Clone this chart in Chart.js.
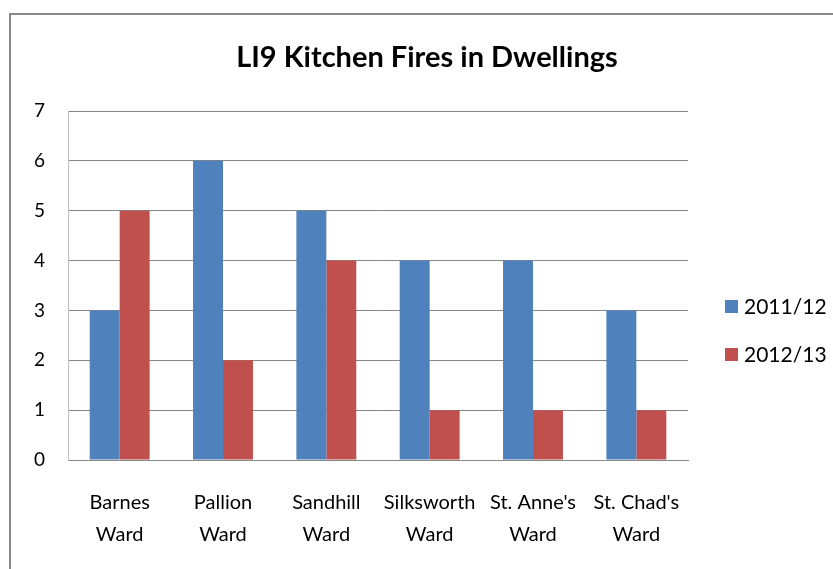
<!DOCTYPE html>
<html>
<head>
<meta charset="utf-8">
<script src="https://cdn.jsdelivr.net/npm/chart.js@4"></script>
<style>
  body { margin: 0; background: #fff; }
  #wrap { position: relative; width: 833px; height: 569px; overflow: hidden; }
  #frame { position: absolute; left: 9px; top: 13px; width: 900px; height: 700px;
           border: 2px solid #8a8a8a; box-sizing: border-box; }
  canvas { position: absolute; left: 0; top: 0; }
</style>
</head>
<body>
<div id="wrap">
  <div id="frame"></div>
  <canvas id="myChart" width="833" height="569"></canvas>
</div>
<script>
// data
var chartTitle = "LI9 Kitchen Fires in Dwellings";
var wards = [
  ["Barnes", "Ward"],
  ["Pallion", "Ward"],
  ["Sandhill", "Ward"],
  ["Silksworth", "Ward"],
  ["St. Anne's", "Ward"],
  ["St. Chad's", "Ward"]
];
var fires2011 = [3, 6, 5, 4, 4, 3];
var fires2012 = [5, 2, 4, 1, 1, 1];
var yTicks = [0, 1, 2, 3, 4, 5, 6, 7];

// title centred on the whole chart + legend at the right, like the original
var extras = {
  id: "extras",
  afterDraw: function (chart) {
    var ctx = chart.ctx;
    ctx.save();
    ctx.fillStyle = "#000";
    ctx.textAlign = "center";
    ctx.textBaseline = "middle";
    ctx.font = "bold 29px Lato";
    ctx.fillText(chartTitle, 427, 58);

    ctx.font = "21px Lato";
    ctx.textAlign = "left";
    chart.data.datasets.forEach(function (ds, i) {
      var y = 306 + i * 48;
      ctx.fillStyle = ds.backgroundColor;
      ctx.fillRect(725, y - 6, 13, 13);
      ctx.fillStyle = "#000";
      ctx.fillText(ds.label, 744, y + 1);
    });
    ctx.restore();
  }
};

let config = {
  type: "bar",
  data: {
    labels: wards,
    datasets: [
      { label: "2011/12", data: fires2011, backgroundColor: "#4F81BD" },
      { label: "2012/13", data: fires2012, backgroundColor: "#C0504D" }
    ]
  },
  options: {
    responsive: false,
    animation: false,
    layout: { padding: { left: 20, right: 145, top: 111, bottom: 0 } },
    datasets: {
      bar: { categoryPercentage: 0.58, barPercentage: 1 }
    },
    plugins: {
      legend: { display: false },
      tooltip: { enabled: false },
      title: { display: false }
    },
    scales: {
      x: {
        grid: { display: false, drawTicks: false },
        border: { color: "#868686" },
        ticks: {
          color: "#000",
          padding: 27,
          maxRotation: 0,
          autoSkip: false,
          font: { family: "Lato", size: 20, lineHeight: 1.6 }
        },
        afterFit: function (s) { s.height = 109; }
      },
      y: {
        min: 0,
        max: 7,
        afterBuildTicks: function (s) {
          s.ticks = yTicks.map(function (v) { return { value: v }; });
        },
        grid: { color: "#868686", drawTicks: false },
        border: { color: "#bfbfbf" },
        ticks: {
          color: "#000",
          padding: 23,
          font: { family: "Lato", size: 19 }
        },
        afterFit: function (s) { s.width = 48; }
      }
    }
  },
  plugins: [extras]
};

var myChart = new Chart(document.getElementById("myChart"), config);
</script>
</body>
</html>
